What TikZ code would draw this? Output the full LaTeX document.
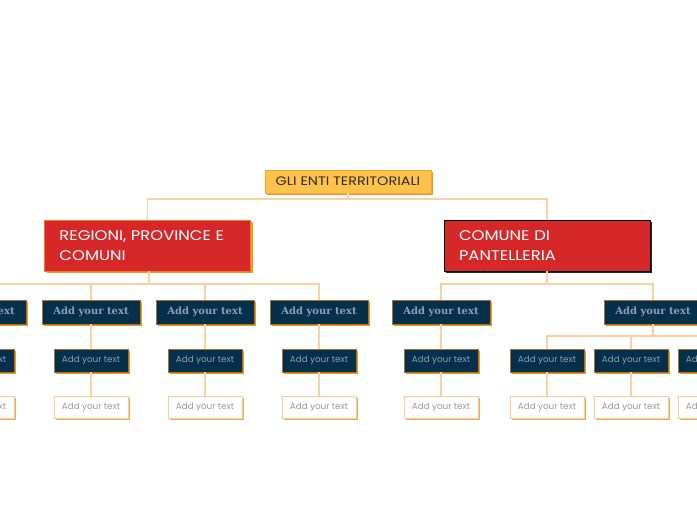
\documentclass[tikz,border=0pt]{standalone}
\usepackage{fontspec}
\setmainfont{Poppins}
\newfontfamily\widefont[FakeStretch=1.17]{Poppins}
\newfontfamily\slabfont{DejaVu Serif}
\usetikzlibrary{shadows,positioning}
\definecolor{navy}{HTML}{05304A}
\definecolor{navytext}{HTML}{8AA0B0}
\definecolor{navyborder}{HTML}{A8702F}
\definecolor{rootfill}{HTML}{FFC24A}
\definecolor{rootborder}{HTML}{F9A23A}
\definecolor{orsh}{HTML}{F7941D}
\definecolor{redfill}{HTML}{D62828}
\definecolor{redborder}{HTML}{F47A20}
\definecolor{conn}{HTML}{FFCF9E}
\definecolor{leafborder}{HTML}{FFCB96}
\definecolor{leaftext}{HTML}{9A9A9A}
\definecolor{darktext}{HTML}{2B2B2B}
\tikzset{
  rootbox/.style={draw=rootborder, line width=0.8pt, fill=rootfill, minimum width=166pt, minimum height=23pt, inner sep=0pt,
    text=darktext, font=\widefont\fontsize{12.3}{14}\selectfont,
    drop shadow={shadow xshift=2pt, shadow yshift=-2pt, opacity=1, fill=orsh}},
  redbox/.style={draw=#1, line width=0.9pt, fill=redfill, minimum width=206pt, minimum height=51pt, inner sep=0pt,
    text=white, font=\widefont\fontsize{14}{19.5}\selectfont, align=left, text width=176pt},
  lvltwo/.style={draw=navyborder, line width=0.6pt, fill=navy, minimum width=98pt, minimum height=24pt, inner sep=0pt,
    text=navytext, font=\slabfont\bfseries\fontsize{10}{12}\selectfont,
    drop shadow={shadow xshift=2pt, shadow yshift=-2pt, opacity=1, fill=orsh}},
  lvlthree/.style={draw=navyborder, line width=0.6pt, fill=navy, minimum width=74pt, minimum height=23pt, inner sep=0pt,
    text=navytext, font=\fontsize{8.8}{10}\selectfont,
    drop shadow={shadow xshift=2pt, shadow yshift=-2pt, opacity=1, fill=orsh}},
  lvlfour/.style={draw=leafborder, line width=0.8pt, fill=white, minimum width=74pt, minimum height=22pt, inner sep=0pt,
    text=leaftext, font=\fontsize{8.8}{10}\selectfont,
    drop shadow={shadow xshift=2pt, shadow yshift=-2pt, opacity=1, fill=orsh!80}},
  cn/.style={draw=conn, line width=1.2pt}
}
\begin{document}
\begin{tikzpicture}[x=1pt,y=-1pt]
\useasboundingbox (0,0) rectangle (697,520);
\clip (0,0) rectangle (697,520);
% junctions
\coordinate (j0) at (348,199);
\coordinate (j1) at (149,284);
\coordinate (j2) at (547,284);
\coordinate (j3) at (653,336);
% nodes
\node[rootbox] (root) at (348,181.5) {GLI ENTI TERRITORIALI};
\node[redbox=redborder, drop shadow={shadow xshift=2pt, shadow yshift=-2pt, opacity=1, fill=orsh}] (reg) at (147.5,245.5) {REGIONI, PROVINCE E\\COMUNI};
\node[redbox=black, drop shadow={shadow xshift=2pt, shadow yshift=-2pt, opacity=1, fill=black!85}] (com) at (547,245.5) {COMUNE DI\\PANTELLERIA};
% level 2
\foreach \n/\x in {a/-23,b/91,c/205,d/319,e/441,f/653}{
  \node[lvltwo] (t\n) at (\x,312) {Add your text};
}
% level 3 and 4
\foreach \n/\x in {a/-23,b/91,c/205,d/319,e/441,f/547,g/631,h/715}{
  \node[lvlthree] (h\n) at (\x,360.5) {Add your text};
  \node[lvlfour] (l\n) at (\x,407) {Add your text};
}
% connectors
\begin{scope}[cn]
\draw (root.south) -- (j0);
\draw (j0) -| (reg.north);
\draw (j0) -| (com.north);
\draw (reg.south -| j1) -- (j1);
\foreach \n in {a,b,c,d}{ \draw (j1) -| (t\n.north); }
\draw (com.south) -- (j2);
\foreach \n in {e,f}{ \draw (j2) -| (t\n.north); }
\foreach \n in {a,b,c,d,e}{ \draw (t\n.south) -- (h\n.north); }
\draw (tf.south) -- (j3);
\foreach \n in {f,g,h}{ \draw (j3) -| (h\n.north); }
\foreach \n in {a,b,c,d,e,f,g,h}{ \draw (h\n.south) -- (l\n.north); }
\end{scope}
\end{tikzpicture}
\end{document}
